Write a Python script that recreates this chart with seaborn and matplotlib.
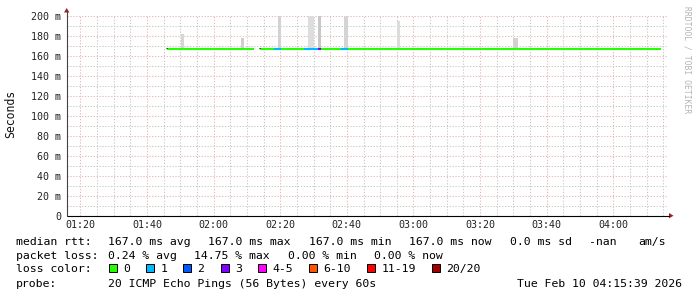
import numpy as np
import pandas as pd
import matplotlib
matplotlib.use("Agg")
import matplotlib.pyplot as plt
from matplotlib.lines import Line2D
from matplotlib.patches import Polygon, Rectangle
import seaborn as sns

# ---------------- data ----------------
median_rtt = 167.0  # ms
# median line pieces (minutes after midnight) and their loss class
piece_start = [106.1, 133.9, 138.2, 140.2, 147.1, 151.4, 152.3, 158.2, 160.3]
piece_end   = [132.1, 138.2, 140.2, 147.1, 151.4, 152.3, 158.2, 160.3, 254.2]
piece_loss  = ["0",   "0",   "1",   "0",   "1",   "3",   "0",   "1",   "0"]
segment_starts = [106.1, 133.9]

# smoke (rtt spread) spikes
spike_start = [110.2, 128.1, 139.4, 148.3, 151.2, 159.1, 175.1, 210.0]
spike_end   = [111.1, 129.1, 140.2, 150.1, 152.3, 160.3, 176.1, 211.3]
spike_top   = [182.0, 178.0, 205.0, 205.0, 205.0, 205.0, 195.0, 178.0]
spike_shade = ["#d6d6d6", "#cfcfcf", "#d2d2d2", "#dddddd", "#c8c8c8", "#d4d4d4", "#dcdcdc", "#d2d2d2"]

x_ticks = [80, 100, 120, 140, 160, 180, 200, 220, 240]
x_labels = ["01:20", "01:40", "02:00", "02:20", "02:40", "03:00", "03:20", "03:40", "04:00"]
y_ticks = [0, 20, 40, 60, 80, 100, 120, 140, 160, 180, 200]
y_labels = ["0", "20 m", "40 m", "60 m", "80 m", "100 m", "120 m", "140 m", "160 m", "180 m", "200 m"]

loss_levels = ["0", "1", "2", "3", "4-5", "6-10", "11-19", "20/20"]
loss_colors = ["#26ff00", "#00b8ff", "#0059ff", "#7e00ff", "#ff00ff", "#ff5500", "#ff0000", "#a10000"]

rtt_row = ["median rtt:", "167.0 ms avg", "167.0 ms max", "167.0 ms min", "167.0 ms now", "0.0 ms sd", "-nan", "am/s"]
loss_row = ["packet loss:", "0.24 % avg", "14.75 % max", "0.00 % min", "0.00 % now"]
probe_text = "20 ICMP Echo Pings (56 Bytes) every 60s"
date_text = "Tue Feb 10 04:15:39 2026"

# ---------------- figure ----------------
sns.set_theme(style="white")
plt.rcParams["font.family"] = ["DejaVu Sans Mono", "DejaVu Sans"]

W, H = 697, 297
fig = plt.figure(figsize=(W / 100, H / 100), dpi=100)
fig.patch.set_facecolor("white")

L, R, T, B = 66.7, 668.0, 15.7, 215.7
ax = fig.add_axes([L / W, 1 - B / H, (R - L) / W, (B - T) / H])
ax.set_facecolor("white")
ax.set_xlim(75.9, 256.4)
ax.set_ylim(0, 200)

def px(x, y):
    return x / W, 1 - y / H

# grid
ax.set_xticks(x_ticks)
ax.set_xticklabels(x_labels)
ax.set_xticks(np.arange(80, 256, 5), minor=True)
ax.set_yticks(y_ticks)
ax.set_yticklabels(y_labels)
ax.set_yticks(np.arange(10, 200, 20), minor=True)
ax.grid(which="minor", color="#c8c8c8", lw=0.75, ls=(0, (1.2, 1.6)))
ax.grid(which="major", color="#e9b6b6", lw=0.75, ls=(0, (1.2, 1.6)))
ax.set_axisbelow(True)
ax.tick_params(which="both", length=0)
ax.tick_params(axis="x", pad=3.2, labelsize=7.2, labelcolor="#222222")
ax.tick_params(axis="y", pad=4.0, labelsize=7.2, labelcolor="#222222")
for s in ax.spines.values():
    s.set_visible(False)

# smoke spikes
for s0, s1, top, c in zip(spike_start, spike_end, spike_top, spike_shade):
    ax.bar(s0, top - median_rtt, bottom=median_rtt, width=s1 - s0, align="edge",
           color=c, edgecolor="none", zorder=2)

# median line coloured by loss
rows = []
for i, (s0, s1, lc) in enumerate(zip(piece_start, piece_end, piece_loss)):
    rows.append({"t": s0, "rtt": median_rtt, "piece": i, "loss": lc})
    rows.append({"t": s1, "rtt": median_rtt, "piece": i, "loss": lc})
df = pd.DataFrame(rows)
palette = dict(zip(loss_levels, loss_colors))
used = [l for l in loss_levels if l in set(piece_loss)]
sns.lineplot(data=df, x="t", y="rtt", hue="loss", hue_order=used, units="piece",
             estimator=None, palette={k: palette[k] for k in used}, legend=False,
             lw=1.5, solid_capstyle="butt", ax=ax, zorder=3)
for s0 in segment_starts:
    ax.plot([s0 - 0.25, s0 + 0.05], [median_rtt + 0.8, median_rtt + 0.8], color="black",
            lw=0.8, solid_capstyle="butt", zorder=4)
ax.set_xlabel("")
ax.set_ylabel("")

# axes lines with arrows
fig.add_artist(Line2D([L / W, 669 / W], [1 - B / H, 1 - B / H], color="black", lw=0.8))
fig.add_artist(Line2D([L / W, L / W], [1 - B / H, 1 - 11 / H], color="#444444", lw=0.8))
fig.add_artist(Polygon([px(669, B - 2.7), px(673.5, B), px(669, B + 2.7)], closed=True,
                       facecolor="#a02020", edgecolor="none", transform=fig.transFigure))
fig.add_artist(Polygon([px(L - 2.7, 12.5), px(L, 8), px(L + 2.7, 12.5)], closed=True,
                       facecolor="#a02020", edgecolor="none", transform=fig.transFigure))

# y unit label
fig.text(*px(10.5, 114), "Seconds", rotation=90, ha="center", va="center",
         fontsize=8.3, color="#111111")

# watermark
fig.text(*px(686.5, 60), "RRDTOOL / TOBI OETIKER", rotation=270, ha="center", va="center",
         fontsize=5.8, color="#b4b4b4")

# legend rows
fs = 8.25
rtt_x = [16, 108, 208.5, 309, 409.4, 510, 589, 638]
for txt, x in zip(rtt_row, rtt_x):
    fig.text(*px(x, 245), txt, ha="left", va="baseline", fontsize=fs, color="black")
loss_x = [16, 108, 194, 288, 374]
for txt, x in zip(loss_row, loss_x):
    fig.text(*px(x, 258.6), txt, ha="left", va="baseline", fontsize=fs, color="black")
fig.text(*px(16, 272.4), "loss color:", ha="left", va="baseline", fontsize=fs, color="black")
box_x = [108.5, 146, 183, 220.5, 257.6, 309, 367, 432]
for lab, c, x in zip(loss_levels, loss_colors, box_x):
    x0, y0 = px(x, 271.5)
    fig.add_artist(Rectangle((x0, y0), 8 / W, 8 / H, facecolor=c, edgecolor="black",
                             lw=0.7, transform=fig.transFigure))
    fig.text(*px(x + 14.5, 272.4), lab, ha="left", va="baseline", fontsize=fs, color="black")
fig.text(*px(16, 286.6), "probe:", ha="left", va="baseline", fontsize=fs, color="black")
fig.text(*px(108, 286.6), probe_text, ha="left", va="baseline", fontsize=fs, color="black")
fig.text(*px(682, 286.6), date_text, ha="right", va="baseline", fontsize=fs, color="black")

fig.savefig("out.png", dpi=100, facecolor="white")
